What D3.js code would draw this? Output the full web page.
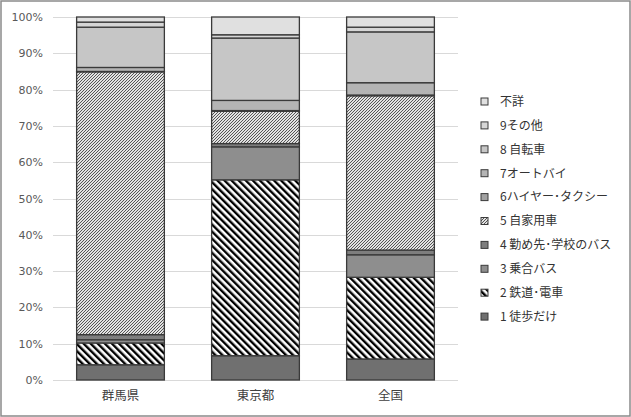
<!DOCTYPE html>
<html><head><meta charset="utf-8">
<script src="https://cdn.jsdelivr.net/npm/d3@7"></script>
<style>
html,body{margin:0;padding:0;background:#fff;}
svg{display:block;}
</style></head>
<body>
<svg id="chart" width="631" height="417"></svg>
<script>
// ---- data ----
const categories = ["群馬県", "東京都", "全国"];
const seriesNames = ["1 徒歩だけ", "2 鉄道･電車", "3 乗合バス", "4 勤め先･学校のバス", "5 自家用車",
  "6ハイヤー･タクシー", "7オートバイ", "8 自転車", "9その他", "不詳"];
const walk     = [4.2, 6.7, 5.8];
const rail     = [6.0, 48.5, 22.5];
const bus      = [0.9, 9.1, 6.2];
const workBus  = [1.4, 0.9, 1.3];
const car      = [72.4, 8.9, 42.5];
const taxi     = [0.1, 0.2, 0.2];
const motorbike= [1.1, 2.8, 3.4];
const bicycle  = [11.1, 17.2, 14.0];
const other    = [1.4, 0.9, 1.3];
const unknown  = [1.4, 4.9, 2.8];
const seriesValues = [walk, rail, bus, workBus, car, taxi, motorbike, bicycle, other, unknown];
const yTicks = [0, 0.1, 0.2, 0.3, 0.4, 0.5, 0.6, 0.7, 0.8, 0.9, 1.0];

// ---- styles ----
const fills = ["#707070", "url(#pRail)", "#8e8e8e", "#7e7e7e", "url(#pCar)",
  "#a2a2a2", "#b4b4b4", "#c6c6c6", "#d6d6d6", "#e0e0e0"];

const svg = d3.select("#chart");
const defs = svg.append("defs");

// rail pattern: black/white "\" stripes
const pr = defs.append("pattern").attr("id", "pRail").attr("patternUnits", "userSpaceOnUse")
  .attr("width", 5).attr("height", 5).attr("patternTransform", "rotate(-45)");
pr.append("rect").attr("width", 5).attr("height", 5).attr("fill", "#fff");
pr.append("rect").attr("width", 2.4).attr("height", 5).attr("fill", "#000");

// car pattern: fine "/" hatch, pixel based
const pc = defs.append("pattern").attr("id", "pCar").attr("patternUnits", "userSpaceOnUse")
  .attr("width", 3).attr("height", 3);
pc.append("rect").attr("width", 3).attr("height", 3).attr("fill", "#e2e2e2");
[[2,0],[1,1],[0,2]].forEach(([x,y]) => pc.append("rect").attr("x", x).attr("y", y)
  .attr("width", 1).attr("height", 1).attr("fill", "#555555"));

// outer frame
svg.append("rect").attr("x", 1).attr("y", 1).attr("width", 629).attr("height", 415)
  .attr("fill", "#fff").attr("stroke", "#8a8a8a").attr("stroke-width", 1.5);

const x = d3.scaleBand().domain(categories).range([53, 458]).paddingInner(0.35).paddingOuter(0.175);
const y = d3.scaleLinear().domain([0, 1]).range([380, 17]);

// gridlines
svg.append("g").selectAll("line").data(yTicks).join("line")
  .attr("x1", 53).attr("x2", 458)
  .attr("y1", d => Math.round(y(d)) + 0.5).attr("y2", d => Math.round(y(d)) + 0.5)
  .attr("stroke", "#d9d9d9").attr("stroke-width", 1);

// y axis labels
const yAxis = d3.axisLeft(y).tickValues(yTicks).tickFormat(d3.format(".0%")).tickSize(0).tickPadding(0);
const gy = svg.append("g").attr("transform", "translate(43,0)").call(yAxis);
gy.select(".domain").remove();
gy.selectAll("text").attr("font-family", "DejaVu Sans, Verdana, sans-serif").attr("font-size", 11)
  .attr("fill", "#595959");

// x axis labels
const xAxis = d3.axisBottom(x).tickSize(0).tickPadding(0);
const gx = svg.append("g").attr("transform", "translate(0,391)").call(xAxis);
gx.select(".domain").remove();
gx.selectAll("text").attr("font-family", "Noto Sans CJK JP, sans-serif").attr("font-size", 12.5)
  .attr("fill", "#404040");

// stack
const table = categories.map((c, i) => {
  const o = { cat: c };
  seriesNames.forEach((s, k) => o[s] = seriesValues[k][i]);
  return o;
});
const stack = d3.stack().keys(seriesNames).offset(d3.stackOffsetExpand);
const layers = stack(table);

svg.append("g").selectAll("g").data(layers).join("g")
  .attr("fill", (d, k) => fills[k])
  .selectAll("rect").data(d => d).join("rect")
  .attr("x", d => x(d.data.cat))
  .attr("width", x.bandwidth())
  .attr("y", d => y(d[1]))
  .attr("height", d => y(d[0]) - y(d[1]))
  .attr("stroke", "#3a3a3a").attr("stroke-width", 1.3);

// legend
const legendY0 = 101.5, legendStep = 23.9;
const legendOrder = seriesNames.map((s, k) => k).reverse();
const lg = svg.append("g").selectAll("g").data(legendOrder).join("g")
  .attr("transform", (k, i) => `translate(481,${legendY0 + i * legendStep})`);
lg.append("rect").attr("x", 0).attr("y", -3.5).attr("width", 7).attr("height", 7)
  .attr("fill", k => fills[k]).attr("stroke", "#3a3a3a").attr("stroke-width", 1);
lg.append("text").attr("x", 19).attr("y", 0).attr("dy", "0.36em")
  .attr("font-family", "Noto Sans CJK JP, sans-serif").attr("font-size", 12)
  .attr("fill", "#333").text(k => seriesNames[k]);
</script>
</body></html>
